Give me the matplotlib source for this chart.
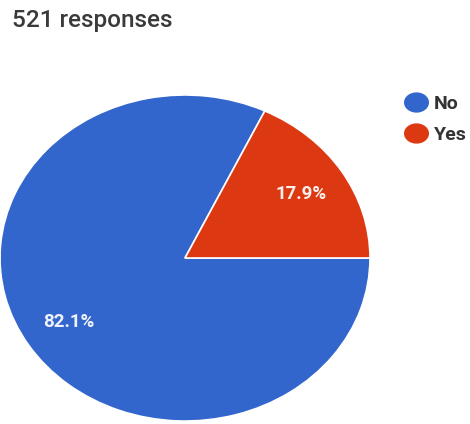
import matplotlib
matplotlib.use("Agg")
import matplotlib.pyplot as plt
from matplotlib.lines import Line2D
from matplotlib.path import Path
from matplotlib.transforms import Affine2D

title = "521 responses"
categories = ["No", "Yes"]
shares = [82.1, 17.9]
colors = ["#3366CC", "#DC3912"]

plt.rcParams['font.family'] = ['Roboto', 'DejaVu Sans']

fig = plt.figure(figsize=(4.7, 4.24), dpi=100)
ax = fig.add_axes([0.0, 0.007, 370/470, 0.769])

wedges, texts, autotexts = ax.pie(
    shares, colors=colors, startangle=360 * shares[1] / 100, counterclock=True,
    autopct=lambda p: f"{p:.1f}%", pctdistance=0.74,
    wedgeprops=dict(edgecolor="white", linewidth=1.2),
    textprops=dict(color="white", fontsize=13.5, fontweight="bold"))
for t in autotexts:
    t.set_alpha(0.92)
ax.set_aspect('auto')
ax.set_xlim(-1.0, 1.0)
ax.set_ylim(-1.0, 1.0)

fig.text(0.025, 0.952, title, fontsize=17.5, fontweight="medium", color="#3a3a3a",
         va="center", ha="left")

ellipse = Path.unit_circle().transformed(Affine2D().scale(1.25, 1.0))
handles = [Line2D([], [], marker=ellipse, linestyle='none', markersize=17,
                  markerfacecolor=c, markeredgecolor=c) for c in colors]
fig.legend(handles, categories, loc='upper left', bbox_to_anchor=(0.84, 0.80),
           frameon=False, prop=dict(size=14, weight="semibold"), handletextpad=0.3,
           labelspacing=0.7, borderpad=0, handlelength=1.2, labelcolor="#333333")

fig.savefig("out.png", dpi=100)
